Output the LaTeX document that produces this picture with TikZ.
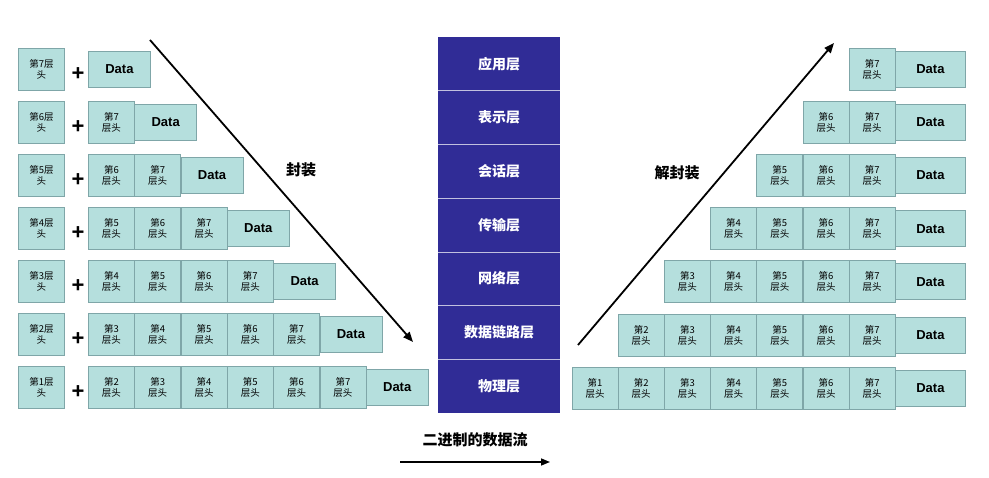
\documentclass[tikz,border=0pt]{standalone}
\usepackage{fontspec}
\setmainfont{Liberation Sans}
\newfontfamily\cjk{Noto Sans CJK SC}
\usetikzlibrary{arrows.meta}
\definecolor{boxfill}{HTML}{B5DFDD}
\definecolor{boxdraw}{HTML}{7FA6A8}
\definecolor{layer}{HTML}{302C96}
\begin{document}
\begin{tikzpicture}[x=1pt,y=-1pt,
 hdr/.style={draw=boxdraw,fill=boxfill,line width=0.8pt,minimum width=46pt,minimum height=42pt,inner sep=0pt,align=center,font=\cjk\fontsize{9.5}{11}\selectfont,anchor=west},
 dat/.style={draw=boxdraw,fill=boxfill,line width=0.8pt,minimum width=62pt,minimum height=36pt,inner sep=0pt,font=\bfseries\fontsize{13}{15}\selectfont,anchor=west},
 lay/.style={fill=layer,minimum width=122pt,minimum height=53.7pt,inner sep=0pt,text=white,font=\cjk\bfseries\fontsize{14}{16}\selectfont},
 arr/.style={line width=1.8pt,-{Triangle[length=10pt,width=8pt]}},
 lab/.style={font=\cjk\bfseries\fontsize{15}{17}\selectfont}]
\useasboundingbox (0,0) rectangle (989,478);
% left side
\foreach \r in {1,...,7}{
  \pgfmathsetmacro{\yy}{69+53*(\r-1)}
  \pgfmathtruncatemacro{\n}{8-\r}
  \node[hdr] (L\r h) at (18,\yy) {第\n 层\\头};
  \node[font=\bfseries\fontsize{22}{22}\selectfont] (L\r p) at (78,\yy+5) {+};
  \ifnum\r>1
  \foreach \k in {1,...,\numexpr\r-1\relax}{
    \pgfmathtruncatemacro{\m}{8-\r+\k}
    \node[hdr] (L\r b\k) at ({88+46.3*(\k-1)},\yy) {第\m\\层头};
  }
  \fi
  \node[dat] (L\r d) at ({88+46.3*(\r-1)},\yy) {Data};
}
% right side
\foreach \r in {1,...,7}{
  \pgfmathsetmacro{\yy}{69+53.2*(\r-1)}
  \foreach \k in {1,...,\r}{
    \pgfmathtruncatemacro{\m}{7-\r+\k}
    \node[hdr] (R\r b\k) at ({895-46.2*(\r-\k+1)},\yy) {第\m\\层头};
  }
  \node[dat,minimum width=70pt] (R\r d) at (895,\yy) {Data};
}
% layers
\foreach \t [count=\i] in {应用层,表示层,会话层,传输层,网络层,数据链路层,物理层}{
  \node[lay] (M\i) at (499,{37+53.7*(\i-0.5)}) {\t};
}
\foreach \i in {1,...,6}{
  \draw[white!70!layer,line width=0.8pt] (M\i.south west) -- (M\i.south east);
}
\coordinate (a1) at (150,40); \coordinate (a2) at (413,342);
\coordinate (b1) at (578,345); \coordinate (b2) at (834,43);
\coordinate (c1) at (400,462); \coordinate (c2) at (550,462);
\draw[arr] (a1) -- (a2);
\draw[arr] (b1) -- (b2);
\draw[line width=1.5pt,-{Triangle[length=9pt,width=7pt]}] (c1) -- (c2);
\node[lab] (enc) at (301,170) {封装};
\node[lab] (dec) at (677,173) {解封装};
\node[lab] (flow) at (475,440) {二进制的数据流};
\end{tikzpicture}
\end{document}
